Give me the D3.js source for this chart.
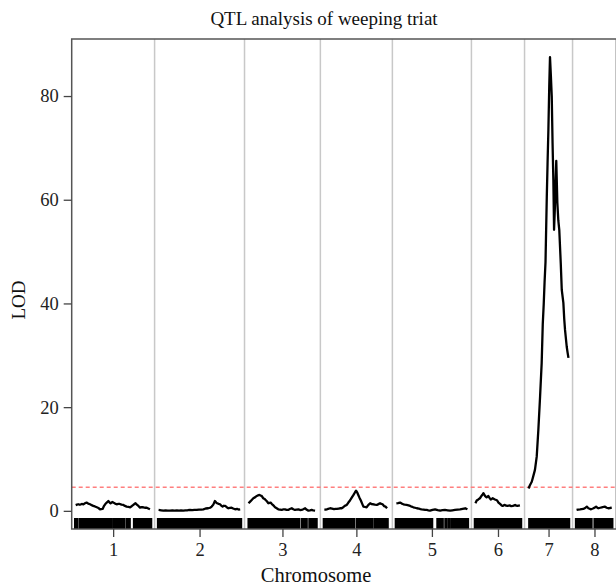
<!DOCTYPE html>
<html>
<head>
<meta charset="utf-8">
<script src="https://cdn.jsdelivr.net/npm/d3@7"></script>
<style>
    body { margin: 0; background: #fff; }
    svg { display: block; font-family: "Liberation Serif", "DejaVu Serif", serif; }
</style>
</head>
<body>
<div class="diagram"></div>
<script>

var chromosomes = ['1', '2', '3', '4', '5', '6', '7', '8'];
var chrLength = [234, 256, 212, 200, 222, 141, 125, 112];
var chrGap = 25;
var threshold = 4.55;
var yTicks = [0, 20, 40, 60, 80];

// LOD profile per chromosome: [position cM, LOD]
var chr1Lod = [[0,1.1],[4,1.2],[8,1.27],[13,1.18],[19,1.33],[24,1.25],[29,1.46],[34,1.6],[39,1.4],[45,1.27],[50,1.1],[55,0.95],[60,0.85],[66,0.69],[71,0.55],[76,0.3],[80,0.35],[84,0.37],[88,0.9],[92,1.27],[97,1.6],[102,1.9],[106,1.6],[109,1.46],[114,1.7],[118,1.59],[123,1.4],[128,1.27],[133,1.35],[138,1.33],[143,1.2],[149,1.14],[154,0.95],[159,0.82],[165,0.75],[170,0.69],[175,0.9],[180,1.14],[184,1.35],[187,1.46],[191,1.2],[196,0.95],[201,0.62],[206,0.7],[211,0.69],[216,0.6],[222,0.62],[227,0.45],[232,0.3]];
var chr2Lod = [[0,0.17],[8,0.1],[15,0.04],[22,0.08],[29,0.05],[36,0.04],[43,0.1],[50,0.06],[57,0.1],[64,0.05],[70,0.08],[77,0.04],[84,0.1],[91,0.12],[98,0.17],[105,0.14],[112,0.2],[119,0.17],[126,0.25],[133,0.22],[140,0.3],[147,0.45],[155,0.5],[161,0.6],[166,0.82],[171,1.2],[176,1.9],[180,1.6],[183,1.46],[188,1.35],[192,1.27],[196,1.0],[200,0.82],[204,0.98],[208,0.95],[213,0.7],[218,0.5],[223,0.58],[228,0.62],[233,0.45],[239,0.3],[245,0.38],[250,0.25],[255,0.3]];
var chr3Lod = [[0,1.46],[5,1.78],[10,2.1],[15,2.43],[20,2.6],[26,2.88],[30,3.0],[34,3.07],[38,2.95],[41,2.88],[46,2.43],[50,2.3],[55,2.0],[58,1.8],[62,1.46],[66,1.55],[69,1.59],[73,1.3],[76,1.14],[80,0.9],[83,0.69],[88,0.5],[93,0.3],[98,0.25],[104,0.17],[109,0.3],[114,0.3],[119,0.2],[124,0.17],[129,0.35],[135,0.5],[140,0.3],[145,0.17],[150,0.25],[156,0.3],[161,0.15],[166,0.17],[171,0.3],[177,0.5],[182,0.2],[187,0.04],[192,0.1],[197,0.17],[202,0.08],[208,0.04]];
var chr4Lod = [[0,0.3],[4,0.25],[7.5,0.3],[12,0.4],[18,0.5],[24,0.45],[30,0.35],[35,0.4],[39,0.37],[45,0.45],[50,0.5],[54,0.5],[60,0.75],[65,1.0],[70,1.14],[75,1.6],[80,2.0],[85,2.5],[91,3.07],[95,3.5],[99,3.9],[103,3.5],[106,3.07],[110,2.5],[114,2.0],[118,1.4],[122,0.82],[127,0.75],[132,0.69],[137,1.1],[143,1.46],[148,1.3],[153,1.27],[158,1.2],[164,1.14],[169,1.3],[174,1.46],[178,1.35],[182,1.27],[187,0.9],[191,0.82],[196,0.5]];
var chr5Lod = [[0,1.46],[5,1.5],[11.5,1.59],[17,1.4],[22,1.27],[27,1.2],[32,1.14],[38,1.05],[43,0.95],[48,0.8],[53,0.69],[58,0.6],[64,0.5],[70,0.45],[75,0.35],[79,0.3],[85,0.25],[90,0.2],[95,0.17],[100,0.1],[105,0.04],[113,0.2],[121,0.3],[129,0.15],[137,0.04],[144,0.12],[152,0.17],[160,0.1],[168,0.04],[175,0.1],[183,0.17],[191,0.25],[199,0.3],[207,0.4],[215,0.5],[222,0.3]];
var chr6Lod = [[0,1.46],[4,2.0],[9,2.2],[14,2.43],[18,2.8],[22,3.1],[25,3.4],[28,3.1],[30,2.88],[33,2.7],[35,2.6],[38,2.75],[40,2.88],[44,2.5],[48,2.2],[51,2.3],[54,2.43],[58,2.3],[61,2.2],[65,2.1],[68,2.0],[72,1.6],[77,1.33],[81,1.1],[85,0.95],[88,1.05],[92,1.14],[96,1.0],[100,0.95],[104,1.0],[108,1.05],[112,0.9],[117,0.95],[121,1.05],[124,1.14],[128,1.0],[131,0.95],[135,1.0],[139,1.05]];
var chr7Lod = [[0,4.3],[4.7,5.0],[10,5.6],[14,6.5],[20,7.9],[25.6,10.5],[30.6,15.6],[36,22],[41,28.5],[44.4,36],[47.5,40],[50,44],[53,48],[57,60.6],[59.4,67],[62,73.5],[64.7,82],[67,87.5],[69.7,84],[72.5,79.9],[75,71],[77.5,63.8],[79.7,54.2],[82,58],[84.4,63],[86.6,67.5],[90,59.4],[93,56],[96,54.2],[100.6,47.8],[103.8,42.6],[108.8,40.1],[111.5,37],[114,34.9],[119.4,31.6],[122,30.5],[124.7,29.5]];
var chr8Lod = [[0,0.17],[5,0.25],[11,0.3],[16,0.35],[21,0.37],[27,0.55],[32,0.82],[37,0.5],[41,0.4],[44,0.3],[49,0.4],[53,0.5],[57,0.65],[61,0.82],[65,0.6],[68,0.5],[74,0.6],[79,0.69],[84,0.75],[89,0.82],[94,0.6],[99,0.5],[104,0.55],[110,0.62]];

// genotyped marker positions (cM), drawn as the rug
var chr1Markers = [0, 3, 14, 20, 27, 33, 40, 46, 53, 59, 66, 72, 79, 85, 92, 98, 105, 111, 121, 127, 134, 140, 150, 161, 167, 184, 190, 197, 203, 210, 216, 223, 229, 234];
var chr2Markers = [0, 6, 13, 19, 27, 33, 40, 46, 53, 60, 66, 73, 80, 86, 93, 99, 106, 113, 119, 126, 133, 139, 146, 152, 159, 166, 172, 179, 186, 192, 199, 206, 212, 219, 226, 232, 239, 245, 251, 256];
var chr3Markers = [2, 8, 15, 21, 28, 34, 41, 48, 54, 61, 67, 74, 81, 87, 94, 100, 107, 114, 120, 127, 133, 140, 150, 156, 168, 174, 180, 192, 199, 205, 211];
var chr4Markers = [0, 6, 13, 19, 26, 32, 39, 45, 52, 58, 65, 71, 78, 84, 92, 104, 110, 117, 123, 130, 136, 143, 149, 160, 166, 176, 183, 190, 196];
var chr5Markers = [0, 6, 13, 19, 26, 32, 39, 45, 52, 58, 65, 71, 78, 84, 91, 97, 104, 110, 130, 136, 143, 155, 165, 175, 184, 191, 197, 204, 210, 216, 222];
var chr6Markers = [0, 6, 13, 19, 26, 32, 39, 45, 52, 58, 65, 71, 78, 84, 91, 97, 104, 110, 117, 123, 130, 136, 141];
var chr7Markers = [4, 10, 17, 23, 30, 36, 43, 49, 56, 62, 69, 75, 82, 88, 95, 101, 108, 114, 121, 125];
var chr8Markers = [0, 6, 13, 19, 26, 32, 39, 45, 58, 64, 71, 77, 84, 90, 97, 103, 110];

var lodByChr = [chr1Lod, chr2Lod, chr3Lod, chr4Lod, chr5Lod, chr6Lod, chr7Lod, chr8Lod];
var markersByChr = [chr1Markers, chr2Markers, chr3Markers, chr4Markers, chr5Markers, chr6Markers, chr7Markers, chr8Markers];

var draw = {

    width : 616,
    height : 586,
    box : {left: 71.7, right: 616.4, top: 39, bottom: 529},

    diagram : function() {

        var box = this.box;

        // chromosome start offsets along the genome
        var starts = [];
        var acc = 0;
        chrLength.forEach(function(len) {starts.push(acc); acc += len + chrGap;});
        var total = acc - chrGap;

        var x = d3.scaleLinear().domain([-chrGap / 2, total + chrGap / 2]).range([box.left, box.right]);
        var y = d3.scaleLinear().domain([-3.5, 91]).range([box.bottom, box.top]);

        var svg = d3.select('.diagram').append('svg')
            .attr('width', this.width).attr('height', this.height);

        svg.append('defs').append('clipPath').attr('id', 'plotclip')
            .append('rect')
            .attr('x', box.left).attr('y', box.top)
            .attr('width', box.right - box.left).attr('height', box.bottom - box.top);

        var plot = svg.append('g').attr('clip-path', 'url(#plotclip)');

        // chromosome separators
        plot.selectAll('line.sep').data(starts.slice(1)).enter()
            .append('line').attr('class', 'sep')
            .attr('x1', function(s) {return x(s - chrGap / 2);})
            .attr('x2', function(s) {return x(s - chrGap / 2);})
            .attr('y1', box.top).attr('y2', box.bottom)
            .attr('stroke', '#c8c8c8').attr('stroke-width', 1.5);

        // significance threshold
        plot.append('line')
            .attr('x1', box.left).attr('x2', box.right)
            .attr('y1', y(threshold)).attr('y2', y(threshold))
            .attr('stroke', '#ff7f7f').attr('stroke-width', 1.3)
            .attr('stroke-dasharray', '4,3');

        // marker rug
        var rug = [];
        markersByChr.forEach(function(list, i) {
            list.forEach(function(m) {rug.push(starts[i] + m);});
        });

        plot.selectAll('line.rug').data(rug).enter()
            .append('line').attr('class', 'rug')
            .attr('x1', function(d) {return x(d);})
            .attr('x2', function(d) {return x(d);})
            .attr('y1', box.bottom).attr('y2', box.bottom - 11)
            .attr('stroke', '#000').attr('stroke-width', 3.4);

        // LOD curves, one path per chromosome
        lodByChr.forEach(function(pts, i) {

            var line = d3.line()
                .x(function(d) {return x(starts[i] + d[0]);})
                .y(function(d) {return y(d[1]);});

            plot.append('path')
                .attr('d', line(pts))
                .attr('fill', 'none')
                .attr('stroke', '#000')
                .attr('stroke-width', 2.3)
                .attr('stroke-linejoin', 'round');

        });

        // frame
        svg.append('rect')
            .attr('x', box.left).attr('y', box.top)
            .attr('width', box.right - box.left).attr('height', box.bottom - box.top)
            .attr('fill', 'none').attr('stroke', '#555').attr('stroke-width', 1.5);

        // y axis
        var yAxis = svg.append('g')
            .attr('transform', 'translate(' + box.left + ',0)')
            .call(d3.axisLeft(y).tickValues(yTicks).tickSize(8).tickPadding(5).tickFormat(d3.format('d')));

        yAxis.select('.domain').remove();
        yAxis.selectAll('line').attr('stroke', '#444').attr('stroke-width', 1.3);
        yAxis.selectAll('text').attr('font-size', 18.5).attr('fill', '#222')
            .attr('font-family', '"Liberation Serif", serif');

        // x axis at chromosome midpoints
        var mids = starts.map(function(s, i) {return s + chrLength[i] / 2;});

        var xAxis = svg.append('g')
            .attr('transform', 'translate(0,' + box.bottom + ')')
            .call(d3.axisBottom(x).tickValues(mids).tickSize(8).tickPadding(6)
                .tickFormat(function(d, i) {return chromosomes[i];}));

        xAxis.select('.domain').remove();
        xAxis.selectAll('line').attr('stroke', '#444').attr('stroke-width', 1.3);
        xAxis.selectAll('text').attr('font-size', 18.5).attr('fill', '#222')
            .attr('font-family', '"Liberation Serif", serif');

        // titles
        svg.append('text')
            .attr('x', 324).attr('y', 25)
            .attr('text-anchor', 'middle').attr('font-size', 19).attr('fill', '#111')
            .text('QTL analysis of weeping triat');

        svg.append('text')
            .attr('x', 316).attr('y', 582)
            .attr('text-anchor', 'middle').attr('font-size', 20.5).attr('fill', '#111')
            .text('Chromosome');

        svg.append('text')
            .attr('transform', 'translate(25,300) rotate(-90)')
            .attr('text-anchor', 'middle').attr('font-size', 19).attr('fill', '#111')
            .text('LOD');

    }
}

draw.diagram();

</script>
</body>
</html>
